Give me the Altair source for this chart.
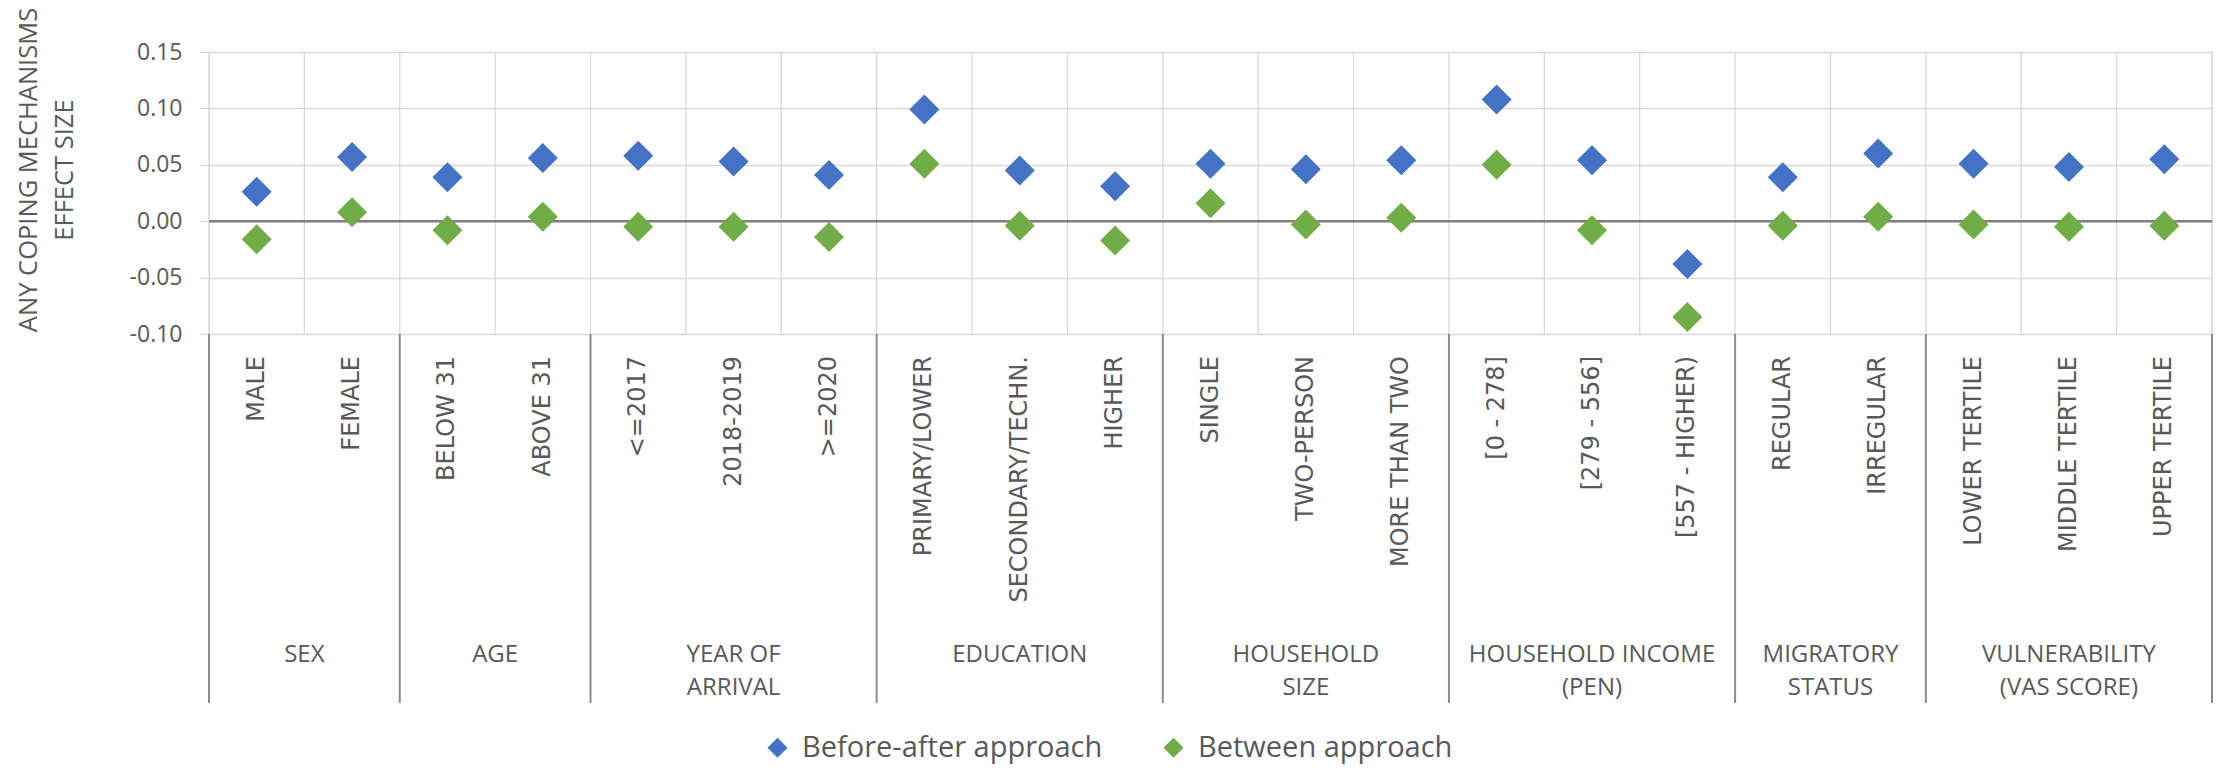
import altair as alt
import pandas as pd

categories = ["MALE", "FEMALE", "BELOW 31", "ABOVE 31", "<=2017", "2018-2019", ">=2020",
              "PRIMARY/LOWER", "SECONDARY/TECHN.", "HIGHER", "SINGLE", "TWO-PERSON",
              "MORE THAN TWO", "[0 - 278]", "[279 - 556]", "[557 - HIGHER)", "REGULAR",
              "IRREGULAR", "LOWER TERTILE", "MIDDLE TERTILE", "UPPER TERTILE"]
group_names = ["SEX", "AGE", "YEAR OF\nARRIVAL", "EDUCATION", "HOUSEHOLD\nSIZE",
               "HOUSEHOLD INCOME\n(PEN)", "MIGRATORY\nSTATUS", "VULNERABILITY\n(VAS SCORE)"]
group_sizes = [2, 2, 3, 3, 3, 3, 2, 3]
before_after = [0.026, 0.057, 0.039, 0.056, 0.058, 0.053, 0.041, 0.099, 0.045, 0.031,
                0.051, 0.046, 0.054, 0.108, 0.054, -0.038, 0.039, 0.060, 0.051, 0.048, 0.055]
between = [-0.016, 0.008, -0.008, 0.004, -0.005, -0.005, -0.014, 0.051, -0.004, -0.017,
           0.016, -0.003, 0.003, 0.050, -0.008, -0.085, -0.004, 0.004, -0.003, -0.005, -0.004]
series_names = ["Before-after approach", "Between approach"]
series_colors = ["#4472C4", "#70AD47"]
y_ticks = [-0.10, -0.05, 0.0, 0.05, 0.10, 0.15]
y_title = "ANY COPING MECHANISMS\nEFFECT SIZE"

W, H = 2003, 282
N = len(categories)
TEXT = "#595959"

rows = []
for i, c in enumerate(categories):
    rows.append({"cat": c, "pos": i + 0.5, "series": series_names[0], "value": before_after[i]})
for i, c in enumerate(categories):
    rows.append({"cat": c, "pos": i + 0.5, "series": series_names[1], "value": between[i]})
points_df = pd.DataFrame(rows)
cats_df = pd.DataFrame({"cat": categories, "pos": [i + 0.5 for i in range(N)]})

g_rows, bounds = [], [0]
start = 0
for name, size in zip(group_names, group_sizes):
    g_rows.append({"name": name, "center": start + size / 2})
    start += size
    bounds.append(start)
groups_df = pd.DataFrame(g_rows)
sep_df = pd.DataFrame({"b": bounds})
grid_df = pd.DataFrame({"b": list(range(N + 1))})
zero_df = pd.DataFrame({"value": [0.0]})
title_df = pd.DataFrame({"t": [y_title]})

xs = alt.Scale(domain=[0, N], nice=False, zero=False)
ys = alt.Scale(domain=[-0.10, 0.15], nice=False, zero=False)

y_axis = alt.Axis(
    values=y_ticks,
    labelExpr="datum.value < 0 ? '-' + format(-datum.value, '.2f') : format(datum.value, '.2f')",
    grid=True, gridColor="#d9d9d9", gridWidth=1.3, domain=False,
    tickSize=9, tickColor="#d9d9d9", tickWidth=1.3, labelPadding=18,
    labelFont="Open Sans", labelFontSize=23, labelColor=TEXT, title=None)

vgrid = alt.Chart(grid_df).mark_rule(color="#d9d9d9", strokeWidth=1.3).encode(
    x=alt.X("b:Q", scale=xs, axis=None))

zero = alt.Chart(zero_df).mark_rule(color="#7f7f7f", strokeWidth=2.5).encode(
    y=alt.Y("value:Q", scale=ys, axis=y_axis))

diamond = "M0,-1L1,0L0,1L-1,0Z"
points = alt.Chart(points_df).mark_point(shape=diamond, filled=True, size=900, opacity=1, strokeWidth=0).encode(
    x=alt.X("pos:Q", scale=xs, axis=None),
    y=alt.Y("value:Q", scale=ys, axis=y_axis),
    color=alt.Color("series:N", scale=alt.Scale(domain=series_names, range=series_colors),
                    legend=alt.Legend(title=None, orient="none", legendX=554, legendY=681,
                                      direction="horizontal", symbolType="diamond", symbolSize=400,
                                      symbolStrokeWidth=0, symbolOpacity=1, labelFont="Open Sans",
                                      labelFontSize=29, labelColor=TEXT, labelOffset=10,
                                      columnPadding=56, labelLimit=1000, padding=0)),
    order=alt.Order("series:N"))

ytitle = alt.Chart(title_df).mark_text(angle=270, align="center", baseline="alphabetic",
                                       lineBreak="\n", lineHeight=36, font="Open Sans",
                                       fontSize=25.5, color=TEXT).encode(
    x=alt.value(-172), y=alt.value(118), text="t:N")

cat_labels = alt.Chart(cats_df).mark_text(angle=270, align="right", baseline="middle",
                                          font="DejaVu Sans", fontSize=24, color=TEXT).encode(
    x=alt.X("pos:Q", scale=xs, axis=None), y=alt.value(H + 22), text="cat:N")

grp_labels = alt.Chart(groups_df).mark_text(align="center", baseline="alphabetic", lineBreak="\n",
                                            lineHeight=33, font="Open Sans", fontSize=24, color=TEXT).encode(
    x=alt.X("center:Q", scale=xs, axis=None), y=alt.value(H + 328), text="name:N")

seps = alt.Chart(sep_df).mark_rule(color="#8c8c8c", strokeWidth=2).encode(
    x=alt.X("b:Q", scale=xs, axis=None), y=alt.value(H), y2=alt.value(H + 369))

chart = alt.layer(vgrid, zero, points, ytitle, cat_labels, grp_labels, seps).properties(
    width=W, height=H,
    autosize=alt.AutoSizeParams(type="none"),
    padding={"left": 201, "top": 44, "right": 4, "bottom": 430},
).configure_view(stroke=None).configure(background="white")

chart.save("out.html", embed_options={"renderer": "svg", "actions": False})
